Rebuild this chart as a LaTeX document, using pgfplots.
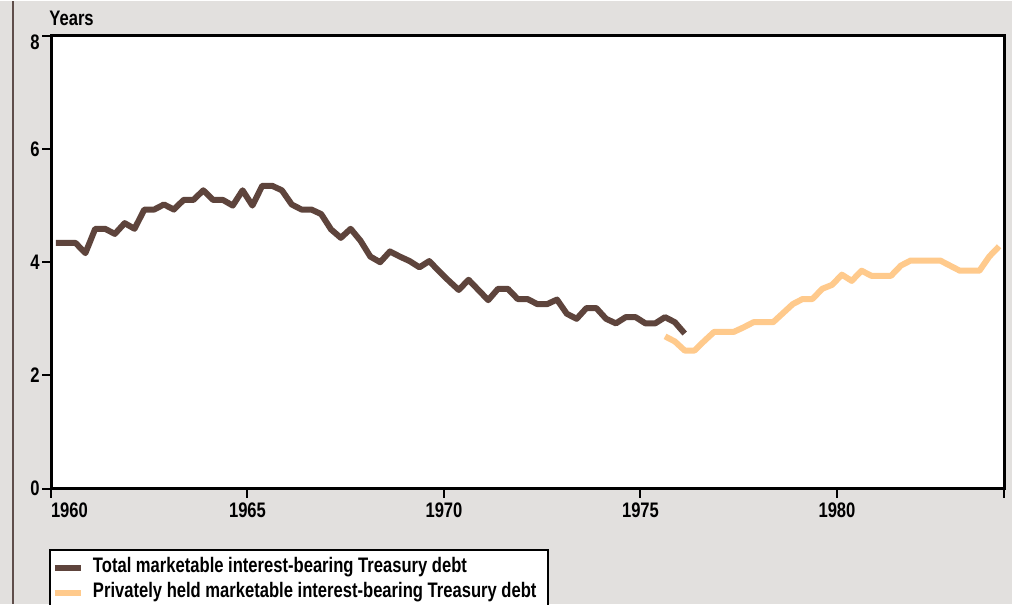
\documentclass[border=0pt]{standalone}
\usepackage{pgfplots}
\pgfplotsset{compat=1.18}
\usepackage{fontspec}
\setmainfont{Liberation Sans}[FakeStretch=0.79]

\definecolor{bggray}{RGB}{226,224,222}
\definecolor{frameline}{RGB}{95,78,74}
\definecolor{totalbrown}{RGB}{94,68,60}
\definecolor{privorange}{RGB}{255,202,140}

\begin{document}
\begin{tikzpicture}[font=\fontsize{10.5}{12.5}\selectfont\bfseries]
% background, page is 1012x603 px at 0.5pt per px
\fill[bggray] (0,0) rectangle (506pt,301.5pt);
\draw[frameline, line width=0.7pt] (6.5pt,0) -- (6.5pt,301.5pt);
\useasboundingbox (0,0) rectangle (506pt,301.5pt);
\begin{axis}[
    at={(25.5pt,57.5pt)}, anchor=south west,
    scale only axis, width=476.5pt, height=226.5pt,
    xmin=1960, xmax=1984.25, ymin=0, ymax=8,
    clip mode=individual,
    axis background/.style={fill=white},
    axis line style={line width=1.5pt, black},
    tick align=outside, xtick pos=bottom, ytick pos=left,
    major tick length=4.5pt,
    major tick style={line width=1pt, black},
    xtick={1965,1970,1975,1980},
    extra x ticks={1960,1984.25},
    extra x tick labels={\makebox[0pt][l]{1960},{}},
    ytick={0,2,4,6},
    extra y ticks={8},
    extra y tick style={yticklabel style={yshift=-3.5pt}},
    /pgf/number format/assume math mode=true,
    /pgf/number format/1000 sep={},
    tick label style={font=\fontsize{10.5}{12.5}\selectfont\bfseries},
    xticklabel style={inner sep=1pt, yshift=-1.5pt},
    yticklabel style={inner sep=1pt},
    legend style={at={(axis description cs:-0.0021,-0.1325)}, anchor=north west,
        draw=black, line width=1pt, fill=white,
        inner xsep=1pt, inner ysep=4.5pt,
        nodes={inner sep=0pt, text height=7pt, text depth=2pt},
        row sep=3.5pt, column sep=4.5pt},
    legend cell align=left,
    legend image code/.code={\draw[#1, line width=3pt] (0pt,0pt) -- (13pt,0pt);},
]
\addplot[totalbrown, line width=3pt, line join=round] coordinates {
(1960.125,4.34) (1960.375,4.34) (1960.625,4.34) (1960.875,4.16)
(1961.125,4.59) (1961.375,4.59) (1961.625,4.50) (1961.875,4.69)
(1962.125,4.59) (1962.375,4.93) (1962.625,4.93) (1962.875,5.02)
(1963.125,4.93) (1963.375,5.10) (1963.625,5.10) (1963.875,5.27)
(1964.125,5.10) (1964.375,5.10) (1964.625,5.00) (1964.875,5.27)
(1965.125,5.00) (1965.375,5.35) (1965.625,5.35) (1965.875,5.27)
(1966.125,5.02) (1966.375,4.93) (1966.625,4.93) (1966.875,4.85)
(1967.125,4.58) (1967.375,4.43) (1967.625,4.59) (1967.875,4.38)
(1968.125,4.10) (1968.375,4.00) (1968.625,4.19) (1968.875,4.10)
(1969.125,4.02) (1969.375,3.91) (1969.625,4.02) (1969.875,3.84)
(1970.125,3.67) (1970.375,3.51) (1970.625,3.69) (1970.875,3.51)
(1971.125,3.33) (1971.375,3.53) (1971.625,3.53) (1971.875,3.35)
(1972.125,3.35) (1972.375,3.26) (1972.625,3.26) (1972.875,3.34)
(1973.125,3.09) (1973.375,3.00) (1973.625,3.19) (1973.875,3.19)
(1974.125,3.00) (1974.375,2.92) (1974.625,3.03) (1974.875,3.03)
(1975.125,2.92) (1975.375,2.92) (1975.625,3.03) (1975.875,2.94)
(1976.125,2.74)
};
\addplot[privorange, line width=3pt, line join=round] coordinates {
(1975.625,2.69) (1975.875,2.60) (1976.125,2.44) (1976.375,2.44)
(1976.625,2.61) (1976.875,2.77) (1977.125,2.77) (1977.375,2.77)
(1977.625,2.85) (1977.875,2.94) (1978.125,2.94) (1978.375,2.94)
(1978.625,3.10) (1978.875,3.26) (1979.125,3.35) (1979.375,3.35)
(1979.625,3.53) (1979.875,3.60) (1980.125,3.78) (1980.375,3.67)
(1980.625,3.85) (1980.875,3.76) (1981.125,3.76) (1981.375,3.76)
(1981.625,3.94) (1981.875,4.03) (1982.125,4.03) (1982.375,4.03)
(1982.625,4.03) (1982.875,3.94) (1983.125,3.85) (1983.375,3.85)
(1983.625,3.85) (1983.875,4.10) (1984.125,4.28)
};
\legend{Total marketable interest-bearing Treasury debt,Privately held marketable interest-bearing Treasury debt\hspace*{5pt}}
\node[anchor=base west, inner sep=0pt] at ([xshift=-1pt, yshift=5pt]axis description cs:0,1) {Years};
\end{axis}
\end{tikzpicture}
\end{document}
